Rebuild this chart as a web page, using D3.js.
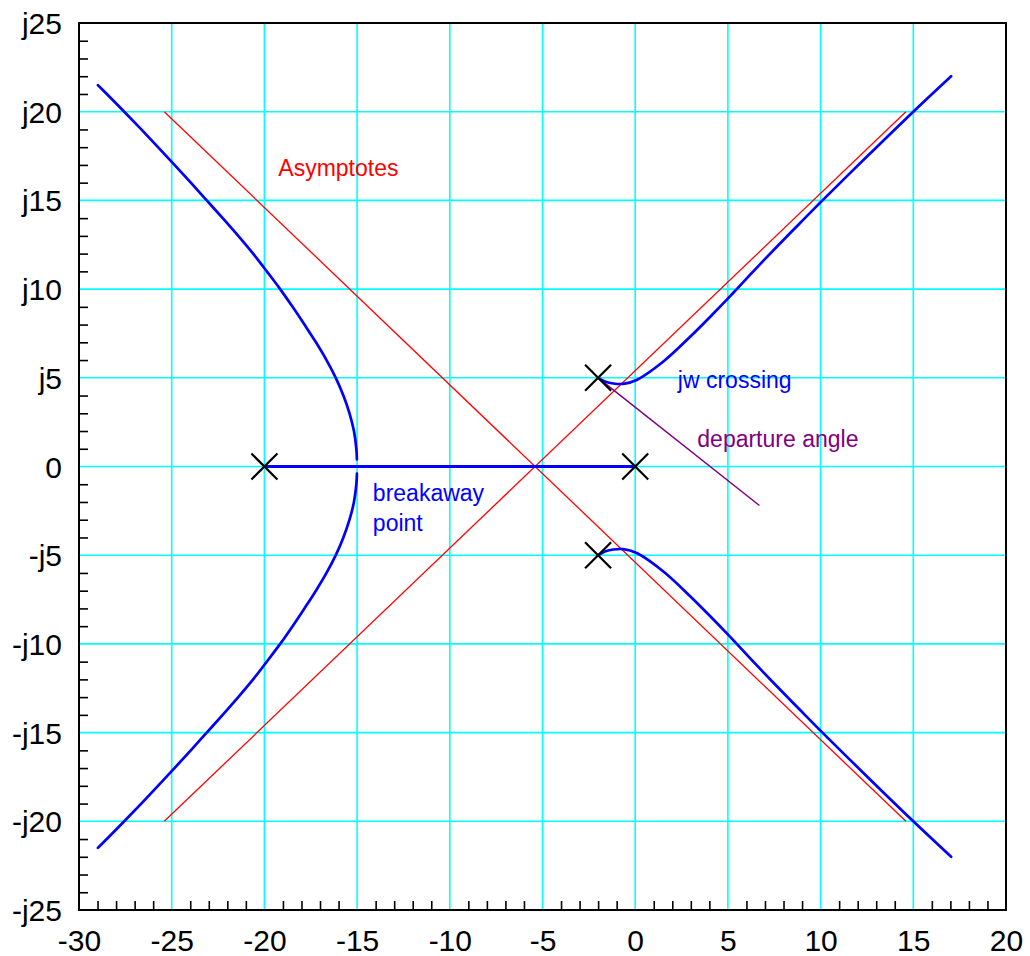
<!DOCTYPE html>
<html>
<head>
<meta charset="utf-8">
<script src="https://cdn.jsdelivr.net/npm/d3@7"></script>
<style>
  html, body { margin: 0; padding: 0; background: #fff; }
  svg { display: block; }
  text { font-family: "Liberation Sans", Arial, Helvetica, sans-serif; }
</style>
</head>
<body>
<svg id="chart" width="1030" height="956"></svg>
<script>
// Root locus: open-loop poles and the traced branches (real, imaginary)
const poles = [[0, 0], [-20, 0], [-2, 5], [-2, -5]];

const branchUpperLeft = [
  [-15.01, 0.4], [-15.04, 1], [-15.17, 2], [-15.41, 3], [-15.74, 4], [-16.15, 5],
  [-16.65, 6], [-17.22, 7], [-17.84, 8], [-18.48, 9], [-19.15, 10], [-19.87, 11],
  [-20.61, 12], [-21.41, 13], [-22.25, 14], [-23.11, 15], [-23.97, 16], [-24.85, 17],
  [-25.74, 18], [-26.64, 19], [-27.56, 20], [-28.5, 21], [-28.98, 21.5]
];
const branchLowerLeft = [
  [-15.01, -0.4], [-15.04, -1], [-15.17, -2], [-15.41, -3], [-15.74, -4], [-16.15, -5],
  [-16.65, -6], [-17.22, -7], [-17.84, -8], [-18.48, -9], [-19.15, -10], [-19.87, -11],
  [-20.61, -12], [-21.41, -13], [-22.25, -14], [-23.11, -15], [-23.97, -16], [-24.85, -17],
  [-25.74, -18], [-26.64, -19], [-27.56, -20], [-28.5, -21], [-28.98, -21.5]
];
const branchUpperRight = [
  [-2, 5], [-1.6, 4.78], [-1.18, 4.68], [-0.64, 4.66], [0.08, 4.88], [1.52, 5.92],
  [2.95, 7.3], [4.1, 8.5], [5.02, 9.49], [5.48, 10], [6.55, 11.2], [7.64, 12.39],
  [8.87, 13.7], [10.1, 15], [12.53, 17.5], [15.0, 20], [17.04, 22.0]
];
const branchLowerRight = [
  [-2, -5], [-1.6, -4.78], [-1.18, -4.68], [-0.64, -4.66], [0.08, -4.88], [1.52, -5.92],
  [2.95, -7.3], [4.1, -8.5], [5.02, -9.49], [5.48, -10], [6.55, -11.2], [7.64, -12.39],
  [8.87, -13.7], [10.1, -15], [12.53, -17.5], [15.0, -20], [17.04, -22.0]
];
const realAxisSegment = [[-20, 0], [0, 0]];

const asymptotes = [
  [[-25.4, 20], [14.6, -20]],
  [[-25.4, -20], [14.6, 20]]
];
const departureLine = [[-2, 5], [6.7, -2.2]];

// Axis ticks
const xMajor = [-30, -25, -20, -15, -10, -5, 0, 5, 10, 15, 20];
const yMajor = [25, 20, 15, 10, 5, 0, -5, -10, -15, -20, -25];
const xMinor = d3.range(-29, 20).filter(v => v % 5 !== 0);
const yMinor = d3.range(-24, 25).filter(v => v % 5 !== 0);

// Annotations
const notes = [
  { text: ["Asymptotes"], at: [-19.25, 16.35], color: "#ff0000" },
  { text: ["jw crossing"], at: [2.3, 4.4], color: "#0000ff" },
  { text: ["departure angle"], at: [3.35, 1.1], color: "#800080" },
  { text: ["breakaway", "point"], at: [-14.15, -1.97], color: "#0000ff" }
];

const svg = d3.select("#chart");
const plotLeft = 79, plotRight = 1006, plotTop = 23, plotBottom = 910;

const x = d3.scaleLinear().domain([-30, 20]).range([plotLeft, plotRight]);
const y = d3.scaleLinear().domain([-25, 25]).range([plotBottom, plotTop]);

// Grid
const grid = svg.append("g").attr("stroke", "#00ffff").attr("stroke-width", 1.6);
grid.selectAll("line.v").data(xMajor.slice(1, -1)).join("line")
  .attr("class", "v")
  .attr("x1", d => x(d)).attr("x2", d => x(d))
  .attr("y1", plotTop).attr("y2", plotBottom);
grid.selectAll("line.h").data(yMajor.slice(1, -1)).join("line")
  .attr("class", "h")
  .attr("y1", d => y(d)).attr("y2", d => y(d))
  .attr("x1", plotLeft).attr("x2", plotRight);

const straight = d3.line().x(d => x(d[0])).y(d => y(d[1]));
const smooth = d3.line().x(d => x(d[0])).y(d => y(d[1])).curve(d3.curveCatmullRom.alpha(0.5));

// Asymptotes
svg.append("g").selectAll("path").data(asymptotes).join("path")
  .attr("d", straight).attr("fill", "none")
  .attr("stroke", "#ff0000").attr("stroke-width", 1.3);

// Departure angle
svg.append("path").attr("d", straight(departureLine)).attr("fill", "none")
  .attr("stroke", "#800080").attr("stroke-width", 1.5);

// Locus branches
svg.append("g").selectAll("path")
  .data([branchUpperLeft, branchLowerLeft, branchUpperRight, branchLowerRight])
  .join("path")
  .attr("d", smooth).attr("fill", "none")
  .attr("stroke", "#0000ff").attr("stroke-width", 2.7)
  .attr("stroke-linecap", "round").attr("stroke-linejoin", "round");
svg.append("path").attr("d", straight(realAxisSegment)).attr("fill", "none")
  .attr("stroke", "#0000ff").attr("stroke-width", 3.2);

// Pole markers
const s = 13;
const poleG = svg.append("g").attr("stroke", "#000").attr("stroke-width", 2.2);
poles.forEach(p => {
  const cx = x(p[0]), cy = y(p[1]);
  poleG.append("line").attr("x1", cx - s).attr("y1", cy - s).attr("x2", cx + s).attr("y2", cy + s);
  poleG.append("line").attr("x1", cx - s).attr("y1", cy + s).attr("x2", cx + s).attr("y2", cy - s);
});

// Minor ticks (inward)
svg.append("g").attr("transform", `translate(0,${plotBottom})`)
  .call(d3.axisBottom(x).tickValues(xMinor).tickSize(-9).tickFormat(""))
  .call(g => g.select(".domain").remove())
  .call(g => g.selectAll("line").attr("stroke", "#000").attr("stroke-width", 1.6));
svg.append("g").attr("transform", `translate(${plotLeft},0)`)
  .call(d3.axisLeft(y).tickValues(yMinor).tickSize(-9).tickFormat(""))
  .call(g => g.select(".domain").remove())
  .call(g => g.selectAll("line").attr("stroke", "#000").attr("stroke-width", 1.6));

// Frame
svg.append("rect").attr("x", plotLeft).attr("y", plotTop)
  .attr("width", plotRight - plotLeft).attr("height", plotBottom - plotTop)
  .attr("fill", "none").attr("stroke", "#000").attr("stroke-width", 2);

// Tick labels
svg.append("g").attr("transform", `translate(0,${plotBottom})`)
  .call(d3.axisBottom(x).tickValues(xMajor).tickSize(0).tickPadding(20).tickFormat(d => String(d)))
  .call(g => g.select(".domain").remove())
  .call(g => g.selectAll("text").attr("font-size", 30).attr("fill", "#000")
    .attr("font-family", "'Liberation Sans', Arial, sans-serif"));
svg.append("g").attr("transform", `translate(${plotLeft},0)`)
  .call(d3.axisLeft(y).tickValues(yMajor).tickSize(0).tickPadding(17)
    .tickFormat(d => d > 0 ? "j" + d : d < 0 ? "-j" + (-d) : "0"))
  .call(g => g.select(".domain").remove())
  .call(g => g.selectAll("text").attr("font-size", 30).attr("fill", "#000").attr("dy", "0.35em")
    .attr("font-family", "'Liberation Sans', Arial, sans-serif"));

// Annotations
notes.forEach(n => {
  const t = svg.append("text")
    .attr("x", x(n.at[0])).attr("y", y(n.at[1]))
    .attr("fill", n.color).attr("font-size", 23);
  n.text.forEach((row, i) => {
    t.append("tspan").attr("x", x(n.at[0])).attr("dy", i === 0 ? 0 : 30).text(row);
  });
});
</script>
</body>
</html>
